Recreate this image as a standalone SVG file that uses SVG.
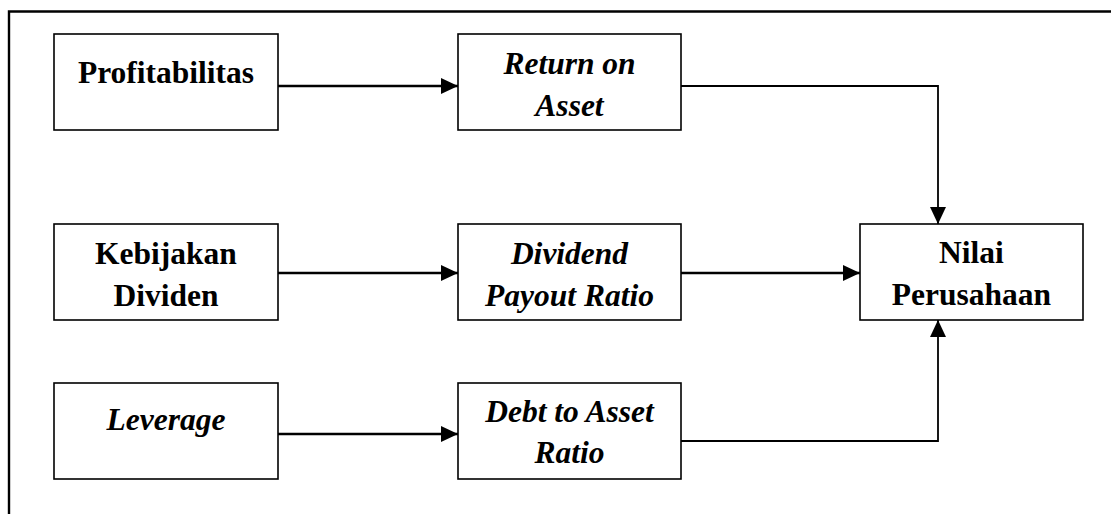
<svg xmlns="http://www.w3.org/2000/svg" width="1111" height="514" viewBox="0 0 1111 514">
<style>
.box{fill:#fff;stroke:#000;stroke-width:1.6}
.t{font-family:"Liberation Serif","Times New Roman",serif;font-size:31.5px;font-weight:bold;fill:#000;text-anchor:middle}
.i{font-style:italic}
.c{fill:none;stroke:#000;stroke-width:2.6}
.thin{stroke-width:1.8}
.frame{fill:none;stroke:#000;stroke-width:2.4}
</style>
<defs>
<marker id="ah" markerUnits="userSpaceOnUse" markerWidth="17" markerHeight="16" viewBox="0 0 17 16" refX="17" refY="8" orient="auto">
<path d="M0,0 L17,8 L0,16 Z" fill="#000"/>
</marker>
</defs>
<rect width="1111" height="514" fill="#fff"/>
<path class="frame" d="M9,514 V11.5 H1111"/>
<g id="profitabilitas"><rect class="box" x="54" y="34" width="224" height="96"/><text class="t" x="166" y="83">Profitabilitas</text></g>
<g id="roa"><rect class="box" x="458" y="34" width="223" height="96"/><text class="t i" x="569.5" y="74">Return on</text><text class="t i" x="569.5" y="116">Asset</text></g>
<g id="kebijakan"><rect class="box" x="54" y="224" width="224" height="96"/><text class="t" x="166" y="264">Kebijakan</text><text class="t" x="166" y="306">Dividen</text></g>
<g id="dpr"><rect class="box" x="458" y="224" width="223" height="96"/><text class="t i" x="569.5" y="264">Dividend</text><text class="t i" x="569.5" y="306">Payout Ratio</text></g>
<g id="leverage"><rect class="box" x="54" y="383" width="224" height="96"/><text class="t i" x="166" y="430">Leverage</text></g>
<g id="dar"><rect class="box" x="458" y="383" width="223" height="96"/><text class="t i" x="569.5" y="422">Debt to Asset</text><text class="t i" x="569.5" y="463">Ratio</text></g>
<g id="nilai"><rect class="box" x="860" y="224" width="223" height="96"/><text class="t" x="971.5" y="263">Nilai</text><text class="t" x="971.5" y="305">Perusahaan</text></g>
<g id="connectors">
<path class="c" d="M278,86 H458" marker-end="url(#ah)"/>
<path class="c thin" d="M681,86 H938 V224" marker-end="url(#ah)"/>
<path class="c" d="M278,273 H458" marker-end="url(#ah)"/>
<path class="c" d="M681,273 H860" marker-end="url(#ah)"/>
<path class="c" d="M278,434 H458" marker-end="url(#ah)"/>
<path class="c thin" d="M681,441 H938 V320" marker-end="url(#ah)"/>
</g>
</svg>
